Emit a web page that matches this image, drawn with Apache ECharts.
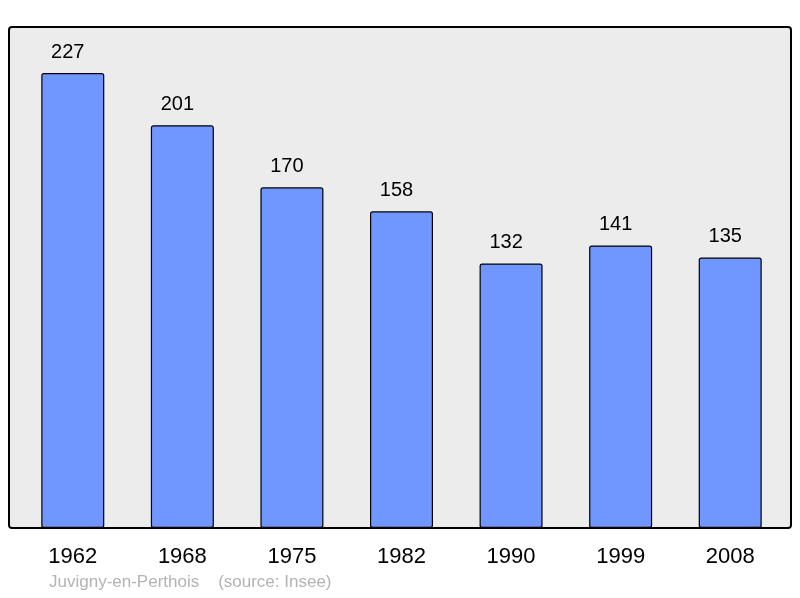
<!DOCTYPE html>
<html>
<head>
<meta charset="utf-8">
<script src="https://cdn.jsdelivr.net/npm/echarts@6/dist/echarts.min.js"></script>
<style>html,body{margin:0;padding:0;background:#fff;}#c{width:800px;height:598px;}</style>
</head>
<body>
<div id="c"></div>
<script>
var years = ['1962', '1968', '1975', '1982', '1990', '1999', '2008'];
var population = [227, 201, 170, 158, 132, 141, 135];
var caption = 'Juvigny-en-Perthois    (source: Insee)';

var chart = echarts.init(document.getElementById('c'), null, {renderer: 'canvas'});
chart.setOption({
  animation: false,
  backgroundColor: '#ffffff',
  graphic: [
    {type: 'rect', z: -10, shape: {x: 9, y: 27, width: 782, height: 501, r: 3},
     style: {fill: '#ececec', stroke: '#000', lineWidth: 2}},
    {type: 'text', left: 49, top: 574,
     style: {text: caption, fill: '#b3b3b3', font: '17px "Liberation Sans", Arial, sans-serif'}}
  ],
  grid: {left: 18, right: 15, top: 27, bottom: 70, containLabel: false},
  xAxis: {
    type: 'category', data: years,
    axisLine: {show: false}, axisTick: {show: false},
    axisLabel: {color: '#000', fontSize: 22, fontFamily: 'Liberation Sans', margin: 18}
  },
  yAxis: {
    type: 'value', min: 0, max: 250,
    show: false, splitLine: {show: false}
  },
  series: [{
    type: 'bar', data: population, barWidth: 63,
    itemStyle: {color: '#7097ff', borderColor: '#000', borderWidth: 1.2, borderRadius: 2},
    label: {show: true, position: 'top', distance: 11, offset: [-5, 0], color: '#000', fontSize: 20, fontFamily: 'Liberation Sans'}
  }]
});
</script>
</body>
</html>
